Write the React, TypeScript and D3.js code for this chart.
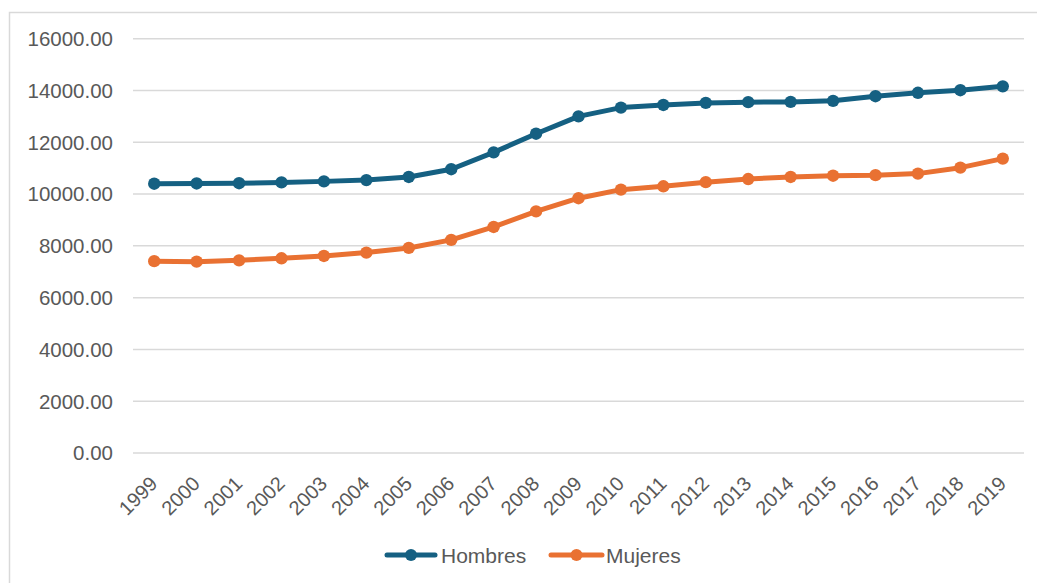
import React from "react";
import * as d3 from "d3";

const years = [
  "1999", "2000", "2001", "2002", "2003", "2004", "2005", "2006", "2007", "2008", "2009",
  "2010", "2011", "2012", "2013", "2014", "2015", "2016", "2017", "2018", "2019",
];

const hombres = [
  10400, 10410, 10420, 10450, 10490, 10540, 10660, 10960, 11610, 12330, 13000,
  13340, 13440, 13520, 13550, 13560, 13600, 13780, 13910, 14010, 14160,
];

const mujeres = [
  7410, 7390, 7440, 7520, 7610, 7740, 7920, 8230, 8730, 9330, 9840,
  10170, 10300, 10460, 10580, 10660, 10710, 10730, 10790, 11020, 11370,
];

const yTicks = [0, 2000, 4000, 6000, 8000, 10000, 12000, 14000, 16000];

const seriesNames = ["Hombres", "Mujeres"];
const seriesColors = ["#156082", "#E97132"];

const W = 1037;
const H = 583;
const FONT = "'Liberation Sans', Arial, sans-serif";
const TEXT = "#595959";

export default function App() {
  const x = d3.scaleBand<string>().domain(years).range([133, 1024]).padding(0);
  const y = d3.scaleLinear().domain([0, 16000]).range([453, 38.7]);
  const cx = (yr: string) => (x(yr) ?? 0) + x.bandwidth() / 2;

  const line = d3
    .line<number>()
    .x((_, i) => cx(years[i]))
    .y((v) => y(v))
    .curve(d3.curveLinear);

  const series = [hombres, mujeres];

  const legend = [
    { x0: 387, x1: 435, tx: 441 },
    { x0: 551, x1: 602, tx: 606 },
  ];

  return (
    <svg
      width={W}
      height={H}
      style={{ position: "absolute", left: 0, top: 0, background: "#fff" }}
      fontFamily={FONT}
    >
      <rect x={9.5} y={12.5} width={W + 10} height={H + 10} fill="#fff" stroke="#D9D9D9" strokeWidth={1.5} />

      {yTicks.map((t) => (
        <g key={t}>
          <line x1={133} x2={1024} y1={y(t)} y2={y(t)} stroke="#D9D9D9" strokeWidth={1.5} />
          <text x={113} y={y(t)} dy="0.36em" textAnchor="end" fontSize={20.5} fill={TEXT}>
            {d3.format(".2f")(t)}
          </text>
        </g>
      ))}

      {years.map((yr) => (
        <text
          key={yr}
          transform={`translate(${cx(yr) + 4.5},485) rotate(-45)`}
          textAnchor="end"
          fontSize={20}
          fill={TEXT}
        >
          {yr}
        </text>
      ))}

      {series.map((s, si) => (
        <g key={seriesNames[si]}>
          <path
            d={line(s) ?? ""}
            fill="none"
            stroke={seriesColors[si]}
            strokeWidth={5}
            strokeLinejoin="round"
            strokeLinecap="round"
          />
          {s.map((v, i) => (
            <circle key={i} cx={cx(years[i])} cy={y(v)} r={6.2} fill={seriesColors[si]} />
          ))}
        </g>
      ))}

      {seriesNames.map((name, si) => {
        const l = legend[si];
        return (
          <g key={name}>
            <line x1={l.x0} x2={l.x1} y1={555} y2={555} stroke={seriesColors[si]} strokeWidth={5} strokeLinecap="round" />
            <circle cx={(l.x0 + l.x1) / 2} cy={555} r={6} fill={seriesColors[si]} />
            <text x={l.tx} y={555} dy="0.36em" fontSize={21} fill={TEXT}>
              {name}
            </text>
          </g>
        );
      })}
    </svg>
  );
}
